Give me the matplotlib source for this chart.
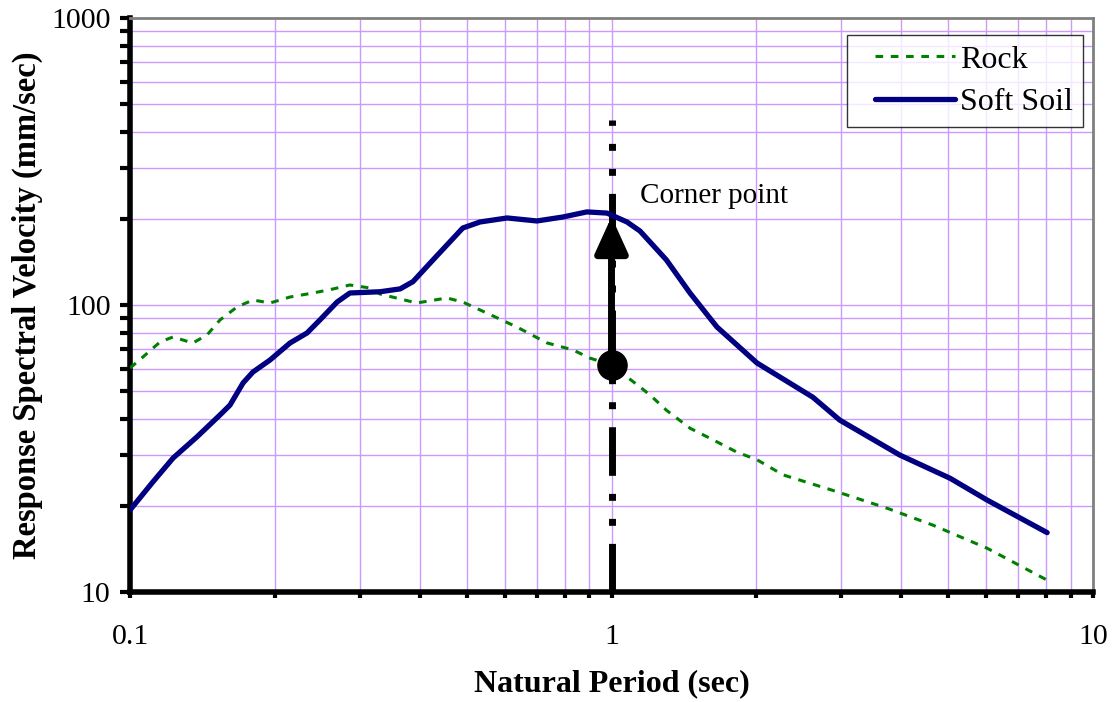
import numpy as np
import matplotlib.pyplot as plt
from matplotlib.ticker import LogLocator, FixedLocator, FixedFormatter, NullFormatter
from matplotlib.legend_handler import HandlerLine2D

# data
rock_T = [0.1, 0.1064, 0.1154, 0.1229, 0.1288, 0.135, 0.1445, 0.1538, 0.1668, 0.180,
          0.1953, 0.2149, 0.240, 0.264, 0.2862, 0.315, 0.3306, 0.394, 0.455, 0.491,
          0.551, 0.636, 0.734, 0.832, 0.902, 1.0, 1.146, 1.202, 1.30, 1.456, 1.625,
          1.822, 2.005, 2.27, 2.88, 3.73, 4.65, 6.03, 8.03]
rock_V = [60.3, 65.9, 74.3, 77.4, 75.5, 73.7, 78.6, 88.7, 98.4, 104.1,
          101.6, 106.6, 110.1, 113.7, 117.4, 114.6, 109.2, 101.6, 105.8, 102.4,
          93.7, 83.8, 73.8, 69.7, 65.3, 61.8, 51.8, 48.6, 43.0, 37.2, 33.9,
          30.7, 28.9, 25.6, 22.6, 19.6, 17.1, 14.2, 11.0]

soil_T = [0.1, 0.1116, 0.1229, 0.1377, 0.1538, 0.1613, 0.1717, 0.180, 0.1953, 0.2149,
          0.2332, 0.248, 0.2692, 0.2862, 0.3306, 0.364, 0.387, 0.426, 0.491, 0.533,
          0.607, 0.700, 0.793, 0.889, 0.979, 1.077, 1.146, 1.30, 1.456, 1.656, 2.005,
          2.62, 2.98, 3.97, 5.05, 6.03, 8.03]
soil_V = [19.3, 24.2, 29.3, 34.7, 41.4, 44.8, 53.5, 58.4, 64.3, 73.7,
          79.9, 88.7, 102.4, 110.1, 111.2, 113.8, 120.6, 143.6, 185.4, 194.6,
          201, 196.2, 202.6, 211, 209, 194.6, 181, 143.6, 110, 83.8, 62.8,
          47.7, 39.7, 30.0, 24.9, 20.9, 16.1]

corner_T = 1.0
corner_base = 61.8
corner_tip = 203
vline_top = 440

x_ticks = [0.1, 1, 10]
x_labels = ['0.1', '1', '10']
y_ticks = [10, 100, 1000]
y_labels = ['10', '100', '1000']

plt.rcParams['font.family'] = ['Liberation Serif', 'DejaVu Serif']

fig = plt.figure(figsize=(11.17, 7.02), dpi=100)
ax = fig.add_axes([0.1164, 0.1567, 0.8621, 0.8177])
ax.set_xscale('log')
ax.set_yscale('log')
ax.set_xlim(0.1, 10)
ax.set_ylim(10, 1000)

grid_c = '#cc99ff'
ax.grid(True, which='both', color=grid_c, lw=1.0)
ax.set_axisbelow(True)

# vertical dash-dot-dot line at the corner period
ax.plot([corner_T, corner_T], [10, vline_top], color='black', lw=5,
        linestyle=(0, (7, 2.6, 1, 2.6, 1, 2.6)), solid_capstyle='butt',
        dash_capstyle='butt', zorder=3)

rock_line, = ax.plot(rock_T, rock_V, color='#008000', lw=2.2,
                     linestyle=(0, (2.5, 2.5)), label='Rock', zorder=4)
soil_line, = ax.plot(soil_T, soil_V, color='#000080', lw=3.8, label='Soft Soil',
                     solid_capstyle='round', solid_joinstyle='round', zorder=4)

ax.annotate('', xy=(corner_T, corner_tip), xytext=(corner_T, corner_base),
            arrowprops=dict(arrowstyle='-|>,head_length=1.1,head_width=0.5',
                            color='black', lw=5, shrinkA=0, shrinkB=0,
                            mutation_scale=20), zorder=5)
ax.plot([corner_T], [corner_base], 'o', color='black', ms=21, zorder=6)
ax.text(1.146, 240, 'Corner point', fontsize=21, va='center', ha='left')

ax.xaxis.set_major_locator(FixedLocator(x_ticks))
ax.xaxis.set_major_formatter(FixedFormatter(x_labels))
ax.xaxis.set_minor_locator(LogLocator(base=10, subs=np.arange(2, 10)))
ax.xaxis.set_minor_formatter(NullFormatter())
ax.yaxis.set_major_locator(FixedLocator(y_ticks))
ax.yaxis.set_major_formatter(FixedFormatter(y_labels))
ax.yaxis.set_minor_locator(LogLocator(base=10, subs=np.arange(2, 10)))
ax.yaxis.set_minor_formatter(NullFormatter())

ax.tick_params(axis='y', which='both', direction='out', length=7, width=3,
               labelsize=21.5, pad=7)
ax.tick_params(axis='x', which='both', direction='out', length=4, width=3,
               labelsize=21.5, pad=19)

for s in ['left', 'bottom']:
    ax.spines[s].set_linewidth(4)
    ax.spines[s].set_color('black')
for s in ['top', 'right']:
    ax.spines[s].set_linewidth(2)
    ax.spines[s].set_color('#808080')

ax.set_xlabel('Natural Period (sec)', fontsize=23, fontweight='bold', labelpad=14)
ax.set_ylabel('Response Spectral Velocity (mm/sec)', fontsize=23.5,
              fontweight='bold', labelpad=6)

# xpad leaves empty room left of the legend lines, like the original
hmap = {rock_line: HandlerLine2D(xpad=0.55), soil_line: HandlerLine2D(xpad=0.55)}
leg = ax.legend(handler_map=hmap, loc='upper right', bbox_to_anchor=(0.9896, 0.9704),
                fontsize=23, frameon=True, fancybox=False, edgecolor='black',
                handlelength=3.05, handletextpad=0.15, borderpad=0.32,
                labelspacing=0.4, borderaxespad=0)
leg.get_frame().set_linewidth(1.0)

fig.savefig('out.png', dpi=100)
